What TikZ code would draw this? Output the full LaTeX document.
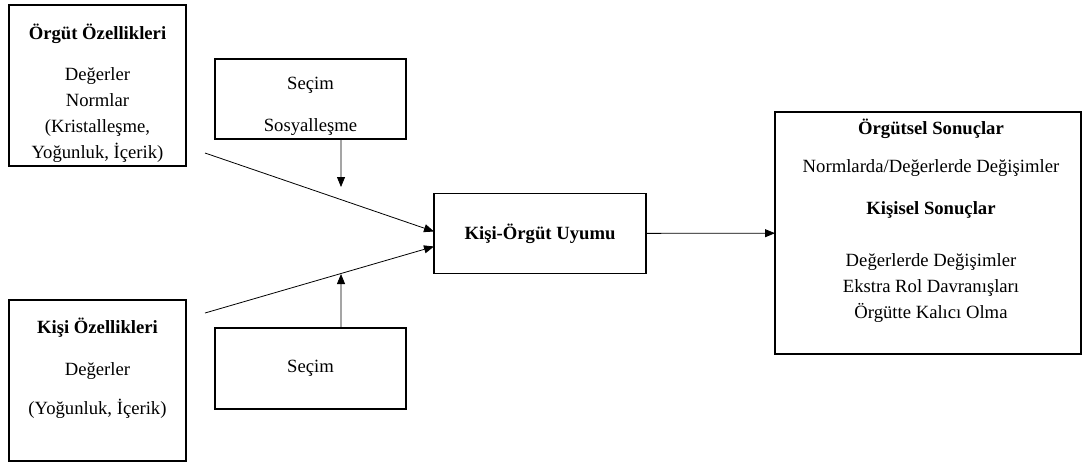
\documentclass[tikz,border=0pt]{standalone}
\usepackage{fontspec}
\setmainfont{Liberation Serif}
\usetikzlibrary{arrows.meta}

\begin{document}
\begin{tikzpicture}[x=0.75pt, y=-0.75pt, >={Triangle[length=7.5pt, width=6pt]},
    every node/.style={font=\fontsize{14}{19.5}\selectfont, align=center},
    box/.style={draw, line width=1.1pt, inner sep=0pt, outer sep=0pt},
    link/.style={->, line width=0.6pt}]
  % Frame
  \useasboundingbox (0,0) rectangle (1083,465);

  % Left boxes
  \node[box, minimum width=132.75pt, minimum height=120.75pt] (orgut) at (97.5,85.5) {};
  \node (orgutText) at (97.5,93) {\textbf{Örgüt Özellikleri}\\[11.25pt] Değerler\\ Normlar\\ (Kristalleşme,\\ Yoğunluk, İçerik)};

  \node[box, minimum width=132.75pt, minimum height=120.75pt] (kisi) at (97.5,380.5) {};
  \node (kisiText) at (97.5,368) {\textbf{Kişi Özellikleri}\\[12pt] Değerler\\[10pt] (Yoğunluk, İçerik)};

  % Selection boxes
  \node[box, minimum width=143.25pt, minimum height=60pt] (secimA) at (310.5,99) {};
  \node (secimAText) at (310.5,106) {Seçim\\[12pt] Sosyalleşme};

  \node[box, minimum width=143.25pt, minimum height=60.75pt] (secimB) at (310.5,368.5) {Seçim};

  % Fit
  \node[box, minimum width=159pt, minimum height=60pt] (uyum) at (540,233.5) {\textbf{Kişi-Örgüt Uyumu}};

  % Outcomes
  \node[box, minimum width=229.5pt, minimum height=181.5pt] (sonuc) at (928,233) {};
  \node (sonucText) at (931,221) {\textbf{Örgütsel Sonuçlar}\\[9pt] Normlarda/Değerlerde Değişimler\\[12pt] \textbf{Kişisel Sonuçlar}\\[19.5pt] Değerlerde Değişimler\\ Ekstra Rol Davranışları\\ Örgütte Kalıcı Olma};

  % Arrows
  \coordinate (orgutEnd) at (205,153);
  \coordinate (kisiEnd) at (205,313);
  \coordinate (downEnd) at (341,187);
  \coordinate (upEnd) at (341,274);

  \draw[link] (orgutEnd) -- ([yshift=1.5pt]uyum.west);
  \draw[link] (kisiEnd) -- ([yshift=-9.75pt]uyum.west);
  \draw[link] ([xshift=22.9pt]secimA.south) -- (downEnd);
  \draw[link] ([xshift=22.9pt]secimB.north) -- (upEnd);
  \draw[link] (uyum) -- (sonuc);
\end{tikzpicture}
\end{document}
